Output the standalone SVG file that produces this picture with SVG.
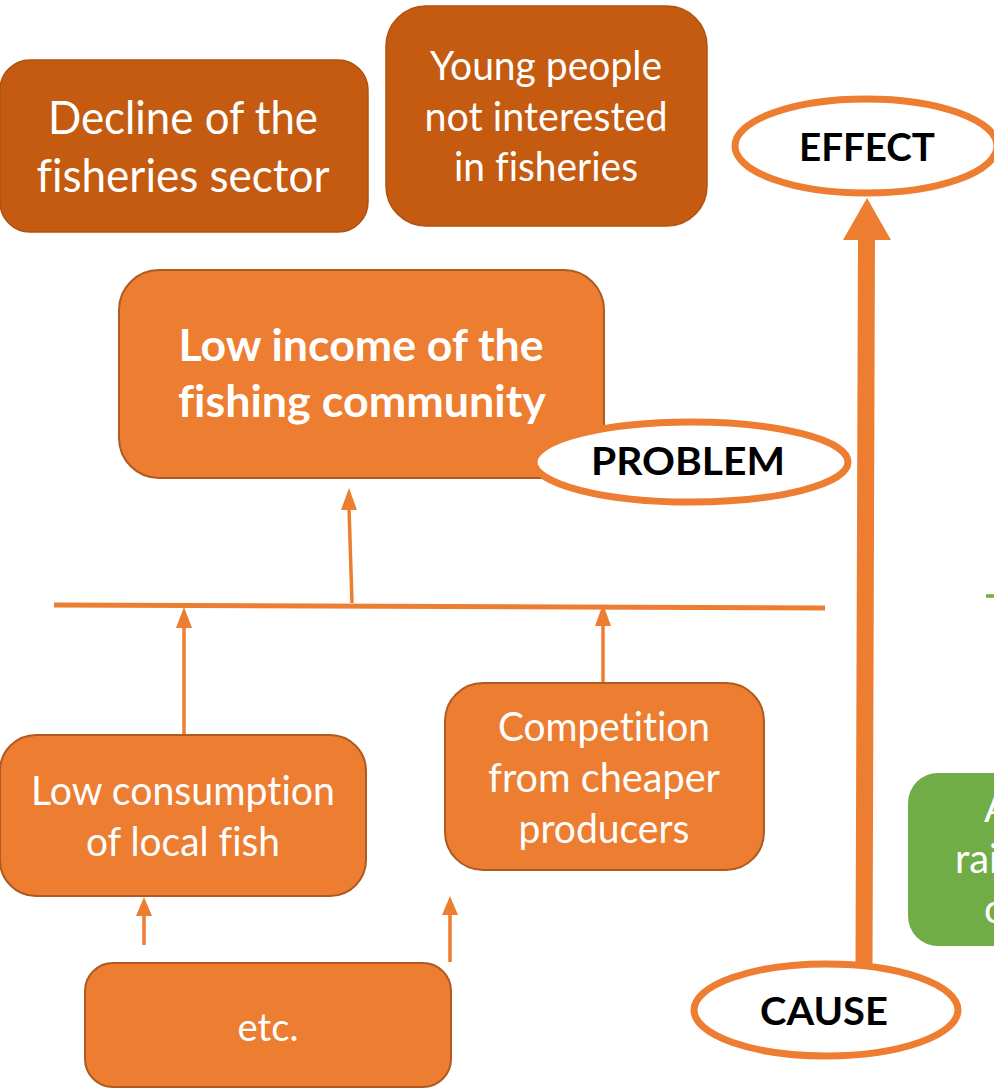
<svg xmlns="http://www.w3.org/2000/svg" width="994" height="1089" viewBox="0 0 994 1089">
<defs>
<style>
.dark{fill:#C55A11;stroke:#B0520F;stroke-width:1.5}
.org{fill:#ED7D31;stroke:#AE5A21;stroke-width:2}
.grn{fill:#70AD47;stroke:none}
text{font-variant-ligatures:none}
.t{font-family:Lato,"Liberation Sans",sans-serif;fill:#FFFFFF;text-anchor:middle}
.tb{font-family:Lato,"Liberation Sans",sans-serif;font-weight:bold;fill:#FFFFFF;text-anchor:middle}
.lab{font-family:Lato,"Liberation Sans",sans-serif;font-weight:bold;fill:#000000;text-anchor:middle}
.ell{fill:#FFFFFF;stroke:#ED7D31;stroke-width:7}
.conn{stroke:#ED7D31;stroke-width:3.5;fill:none}
.head{fill:#ED7D31}
</style>
</defs>

<g id="connectors">
<line class="conn" style="stroke-width:5" x1="54" y1="605" x2="825" y2="608"/>
<line class="conn" x1="352" y1="603" x2="349" y2="508"/>
<path class="head" d="M341,510 L349,488 L357,510 Z"/>
<line class="conn" x1="184" y1="735" x2="184" y2="627"/>
<path class="head" d="M176,628 L184,607 L192,628 Z"/>
<line class="conn" x1="603" y1="683" x2="603" y2="625"/>
<path class="head" d="M595,626 L603,604 L611,626 Z"/>
<line class="conn" x1="144" y1="945" x2="144" y2="915"/>
<path class="head" d="M136,916 L144,897 L152,916 Z"/>
<line class="conn" x1="450" y1="962" x2="450" y2="914"/>
<path class="head" d="M442,915 L450,896 L458,915 Z"/>
<line x1="864" y1="966" x2="866.5" y2="236" stroke="#ED7D31" stroke-width="17"/>
<path class="head" d="M843,240 L891,240 L867,198 Z"/>
<line x1="986" y1="596" x2="994" y2="596" stroke="#70AD47" stroke-width="3.5"/>
</g>

<g id="decline">
<rect class="dark" x="0" y="60" width="368" height="172" rx="30"/>
<text class="t" font-size="46" x="183" y="134" textLength="270" lengthAdjust="spacingAndGlyphs">Decline of the</text>
<text class="t" font-size="46" x="183" y="192" textLength="293" lengthAdjust="spacingAndGlyphs">fisheries sector</text>
</g>

<g id="young">
<rect class="dark" x="386" y="6" width="321" height="220" rx="40"/>
<text class="t" font-size="40" x="546" y="80" textLength="232" lengthAdjust="spacingAndGlyphs">Young people</text>
<text class="t" font-size="40" x="546" y="131" textLength="243" lengthAdjust="spacingAndGlyphs">not interested</text>
<text class="t" font-size="40" x="546" y="181" textLength="184" lengthAdjust="spacingAndGlyphs">in fisheries</text>
</g>

<g id="lowincome">
<rect class="org" x="119" y="270" width="485" height="208" rx="40"/>
<text class="tb" font-size="44" x="361" y="361" textLength="365" lengthAdjust="spacingAndGlyphs">Low income of the</text>
<text class="tb" font-size="44" x="362" y="417" textLength="368" lengthAdjust="spacingAndGlyphs">fishing community</text>
</g>

<g id="problem">
<ellipse class="ell" cx="691" cy="462" rx="157" ry="40"/>
<text class="lab" font-size="38" x="688" y="475" textLength="194" lengthAdjust="spacingAndGlyphs">PROBLEM</text>
</g>

<g id="effect">
<ellipse class="ell" cx="866" cy="146" rx="131" ry="47"/>
<text class="lab" font-size="38" x="867" y="161" textLength="136" lengthAdjust="spacingAndGlyphs">EFFECT</text>
</g>

<g id="cause">
<ellipse class="ell" cx="826" cy="1010" rx="132" ry="46"/>
<text class="lab" font-size="38" x="824" y="1025" textLength="128" lengthAdjust="spacingAndGlyphs">CAUSE</text>
</g>

<g id="lowconsumption">
<rect class="org" x="0" y="735" width="366" height="161" rx="36"/>
<text class="t" font-size="40" x="183" y="805" textLength="304" lengthAdjust="spacingAndGlyphs">Low consumption</text>
<text class="t" font-size="40" x="183" y="856" textLength="194" lengthAdjust="spacingAndGlyphs">of local fish</text>
</g>

<g id="competition">
<rect class="org" x="445" y="683" width="319" height="187" rx="38"/>
<text class="t" font-size="40" x="604" y="741" textLength="212" lengthAdjust="spacingAndGlyphs">Competition</text>
<text class="t" font-size="40" x="604" y="792" textLength="232" lengthAdjust="spacingAndGlyphs">from cheaper</text>
<text class="t" font-size="40" x="604" y="843" textLength="171" lengthAdjust="spacingAndGlyphs">producers</text>
</g>

<g id="etc">
<rect class="org" x="85" y="963" width="366" height="124" rx="28"/>
<text class="t" font-size="38" x="268" y="1041" textLength="61" lengthAdjust="spacingAndGlyphs">etc.</text>
</g>

<g id="green">
<rect class="grn" x="908" y="773" width="140" height="173" rx="30"/>
<text class="t" font-size="40" x="984" y="822" style="text-anchor:start">A</text>
<text class="t" font-size="40" x="955" y="873" style="text-anchor:start">rai</text>
<text class="t" font-size="40" x="984" y="923" style="text-anchor:start">c</text>
</g>
</svg>
